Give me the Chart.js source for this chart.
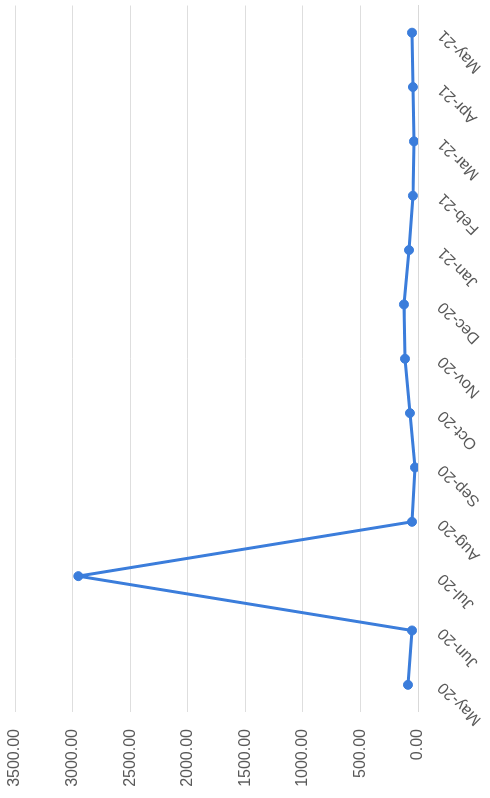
<!DOCTYPE html>
<html>
<head>
<meta charset="utf-8">
<script src="https://cdn.jsdelivr.net/npm/chart.js@4"></script>
<style>
  html, body { margin: 0; padding: 0; background: #fff; overflow: hidden; }
  /* the source scan is turned a quarter to the left */
  #wrap {
    position: absolute; left: 0; top: 0;
    width: 798px; height: 490px;
    transform-origin: top left;
    transform: translate(0, 798px) rotate(-90deg);
  }
</style>
</head>
<body>
<div id="wrap"><canvas id="chart" width="798" height="490"></canvas></div>
<script>
var months = ['May-20', 'Jun-20', 'Jul-20', 'Aug-20', 'Sep-20', 'Oct-20', 'Nov-20',
              'Dec-20', 'Jan-21', 'Feb-21', 'Mar-21', 'Apr-21', 'May-21'];
var values = [87, 52, 2950, 52, 26, 70, 113, 122, 78, 44, 35, 44, 52];
var axisMin = 0;
var axisMax = 3500;
var axisStep = 500;

var blue = '#3b7ddb';
var grey = '#595959';

new Chart(document.getElementById('chart'), {
  type: 'line',
  data: {
    labels: months,
    datasets: [{
      data: values,
      borderColor: blue,
      backgroundColor: blue,
      borderWidth: 3,
      borderJoinStyle: 'round',
      pointRadius: 4.5,
      pointBorderWidth: 1,
      pointBorderColor: blue,
      pointBackgroundColor: blue,
      tension: 0
    }]
  },
  options: {
    responsive: false,
    animation: false,
    layout: { padding: { top: 15, right: 5, bottom: 0, left: 0 } },
    plugins: { legend: { display: false }, tooltip: { enabled: false } },
    scales: {
      x: {
        offset: true,
        grid: { display: false, drawTicks: false },
        border: { display: true, color: '#d9d9d9', width: 1 },
        ticks: {
          minRotation: 45, maxRotation: 45, padding: 16,
          color: grey, font: { family: 'Liberation Sans, Arial, sans-serif', size: 16 }
        },
        afterFit: function (s) { s.height = 72; s.paddingLeft = 0; s.paddingRight = 0; }
      },
      y: {
        min: axisMin, max: axisMax,
        grid: { color: '#dedede', lineWidth: 1, drawTicks: false },
        border: { display: false },
        ticks: {
          stepSize: axisStep, padding: 17,
          color: grey, font: { family: 'Liberation Sans, Arial, sans-serif', size: 16 },
          callback: function (v) { return v.toFixed(2); }
        },
        afterFit: function (s) { s.width = 86; s.paddingTop = 0; s.paddingBottom = 0; }
      }
    }
  }
});
</script>
</body>
</html>
